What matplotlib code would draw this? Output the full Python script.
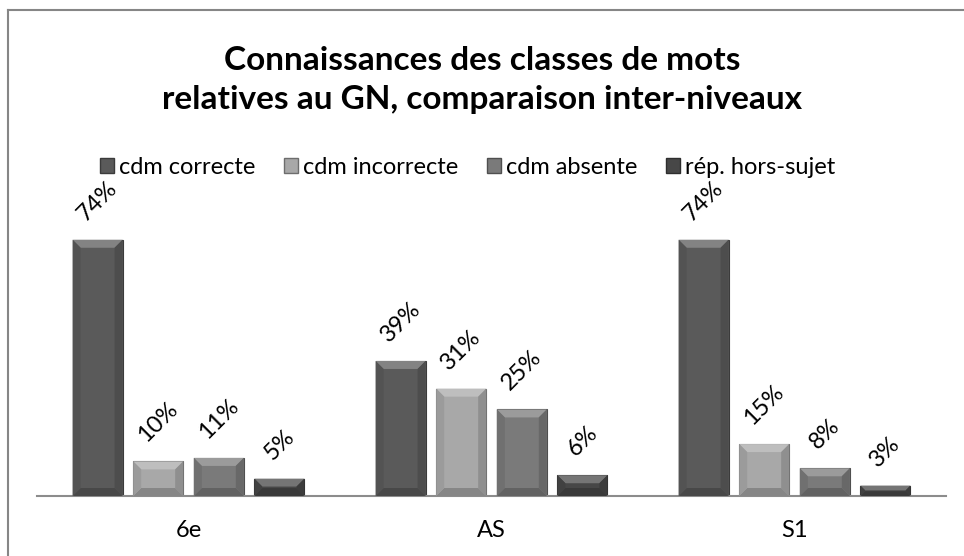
import matplotlib.pyplot as plt
from matplotlib.patches import Polygon, Patch
from matplotlib.lines import Line2D
import numpy as np

plt.rcParams['font.family'] = ['Lato', 'DejaVu Sans']

# data
categories = ["6e", "AS", "S1"]
series_names = ["cdm correcte", "cdm incorrecte", "cdm absente", "rép. hors-sujet"]
cdm_correcte = [74, 39, 74]
cdm_incorrecte = [10, 31, 15]
cdm_absente = [11, 25, 8]
rep_hors_sujet = [5, 6, 3]
title = "Connaissances des classes de mots\nrelatives au GN, comparaison inter-niveaux"

series_values = [cdm_correcte, cdm_incorrecte, cdm_absente, rep_hors_sujet]
colors = ["#5a5a5a", "#a8a8a8", "#7a7a7a", "#474747"]


def shade(hex_color, f):
    c = np.array([int(hex_color[i:i + 2], 16) for i in (1, 3, 5)]) / 255.0
    if f > 0:
        c = c + (1 - c) * f
    else:
        c = c * (1 + f)
    return tuple(c)


W, H = 964, 556
fig = plt.figure(figsize=(W / 100, H / 100), dpi=100)

ax_left, ax_right, ax_base, ax_top = 37, 946, 496, 219
ax = fig.add_axes([ax_left / W, (H - ax_base) / H, (ax_right - ax_left) / W, (ax_base - ax_top) / H])
ax.set_xlim(-0.5, len(categories) - 0.5)
ax.set_ylim(0, 80)

x = np.arange(len(categories))
bar_w = 0.165
step = 0.2
# bevel size in data units (about 8 px)
bx = 8 / ((ax_right - ax_left) / 3)
by = 8 / ((ax_base - ax_top) / 80)

for i, (vals, col) in enumerate(zip(series_values, colors)):
    xs = x + (i - 1.5) * step
    ax.bar(xs, vals, width=bar_w, color=col, edgecolor=shade(col, -0.35), linewidth=0.8, zorder=2)
    for xc, v in zip(xs, vals):
        l, r = xc - bar_w / 2, xc + bar_w / 2
        dy = min(by, v / 2.2)
        dx = min(bx, dy * bx / by)
        # top bevel (light)
        ax.add_patch(Polygon([(l, v), (r, v), (r - dx, v - dy), (l + dx, v - dy)],
                             closed=True, facecolor=shade(col, 0.25), edgecolor='none', zorder=3))
        # bottom bevel (dark)
        ax.add_patch(Polygon([(l, 0), (r, 0), (r - dx, dy), (l + dx, dy)],
                             closed=True, facecolor=shade(col, -0.2), edgecolor='none', zorder=3))
        # side bevels
        ax.add_patch(Polygon([(l, 0), (l + dx, dy), (l + dx, v - dy), (l, v)],
                             closed=True, facecolor=shade(col, -0.08), edgecolor='none', zorder=3))
        ax.add_patch(Polygon([(r, 0), (r - dx, dy), (r - dx, v - dy), (r, v)],
                             closed=True, facecolor=shade(col, -0.15), edgecolor='none', zorder=3))
        ax.annotate(f"{v}%", (xc, v), xytext=(0, 11), textcoords='offset points',
                    ha='center', va='bottom', rotation=45, fontsize=17, color='#000000',
                    annotation_clip=False)

for s in ["top", "right", "left"]:
    ax.spines[s].set_visible(False)
ax.spines["bottom"].set_color("#8c8c8c")
ax.spines["bottom"].set_linewidth(1.5)
ax.set_yticks([])
ax.set_xticks(x)
ax.set_xticklabels(categories, fontsize=17)
ax.tick_params(axis='x', length=0, pad=17)

handles = [Patch(facecolor=c, edgecolor=shade(c, -0.35)) for c in colors]
fig.legend(handles, series_names, loc='center', bbox_to_anchor=(0.485, (H - 167) / H), ncol=4,
           frameon=False, fontsize=17, handlelength=0.62, handleheight=0.62,
           handletextpad=0.2, columnspacing=1.2)

fig.text(0.5, (H - 80) / H, title, ha='center', va='center', fontsize=24, fontweight='bold',
         linespacing=1.45)

# chart frame (cut at right and bottom)
fig.add_artist(Line2D([7.5 / W, 7.5 / W], [0, (H - 10) / H], color='#868686', lw=1.5))
fig.add_artist(Line2D([7.5 / W, 1], [(H - 10) / H, (H - 10) / H], color='#868686', lw=1.5))

fig.savefig("out.png", dpi=100)
